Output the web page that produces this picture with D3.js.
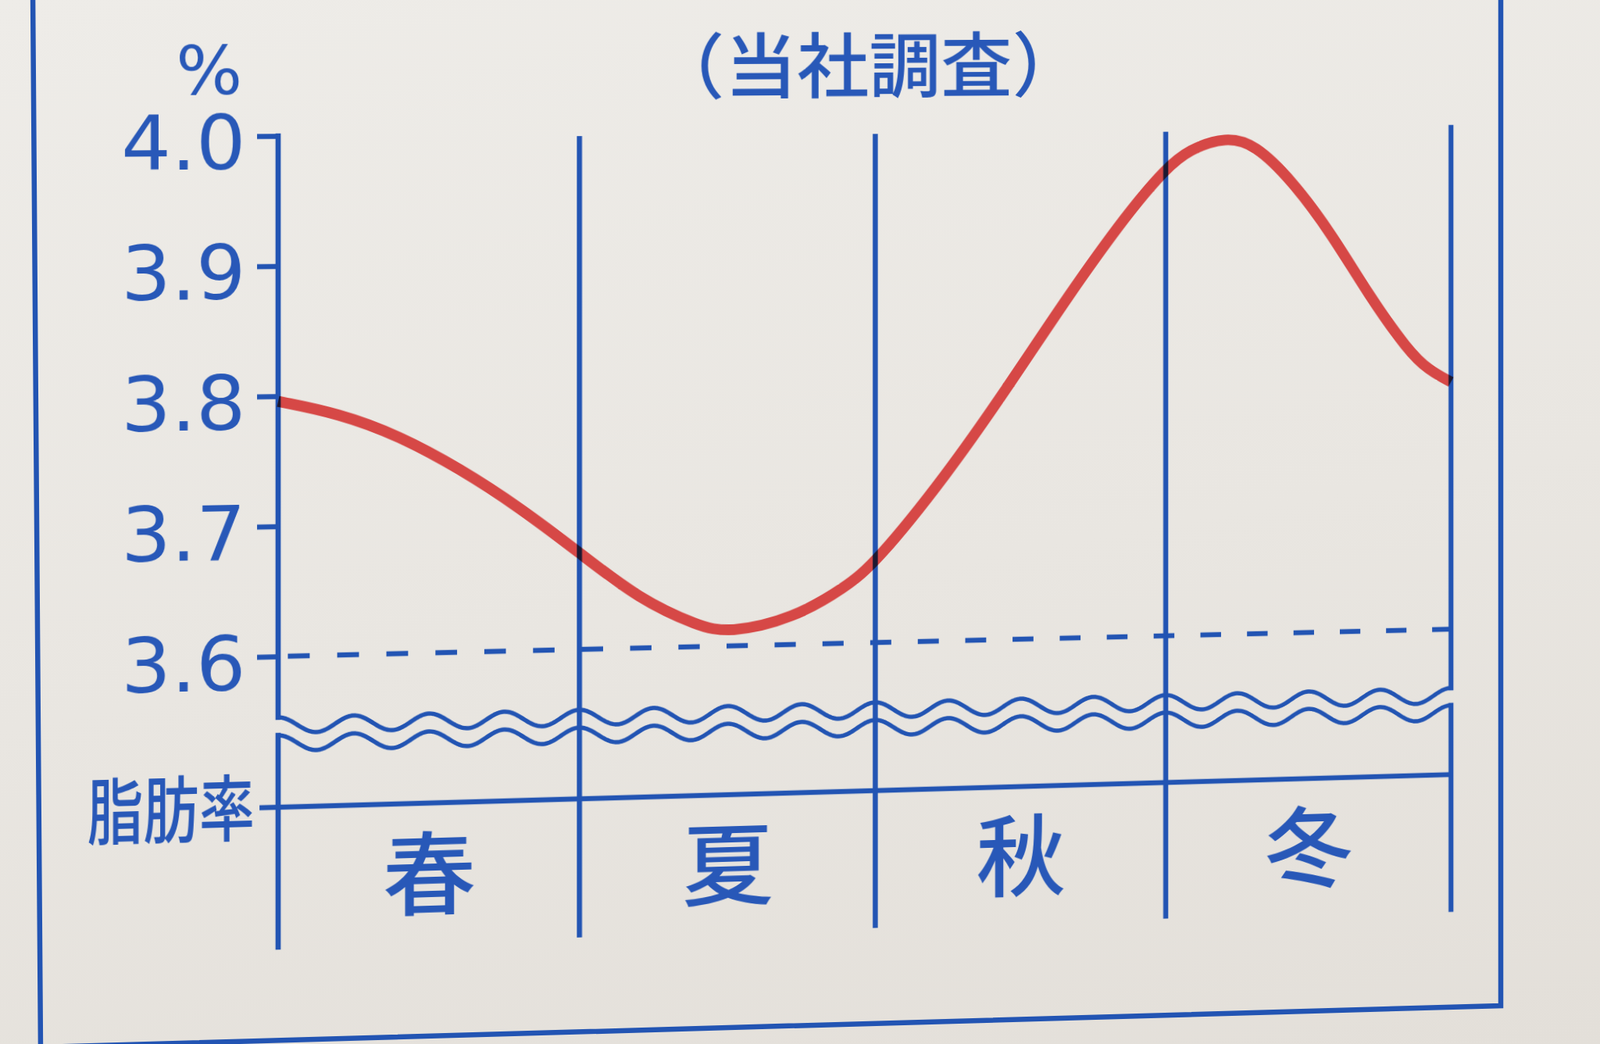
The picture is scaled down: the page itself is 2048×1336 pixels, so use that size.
<!DOCTYPE html>
<html><head><meta charset="utf-8">
<script src="https://cdn.jsdelivr.net/npm/d3@7"></script>
<style>
html,body{margin:0;padding:0;width:2048px;height:1336px;overflow:hidden;}
body{background:linear-gradient(170deg,#eeece8 0%,#e9e6e1 55%,#e3dfd9 100%);}
svg{position:absolute;left:0;top:0;overflow:visible;}
#chart{transform-origin:0 0;}
</style></head><body>
<svg id="frame" width="2048" height="1336"></svg>
<svg id="chart" width="2048" height="1336"></svg>
<script>
// ---- data ----
const seasons = ["春", "夏", "秋", "冬"];
// position along the year in season units (0 = start of spring, 4 = end of winter)
const curvePos = [0, 0.2, 0.4, 0.6, 0.8, 1.0, 1.2, 1.4, 1.5, 1.72, 1.9, 2.0, 2.24, 2.45, 2.66, 2.87, 3.0, 3.08, 3.21, 3.31, 3.44, 3.58, 3.71, 3.85, 3.92, 4.0];
// milk fat percentage
const curveVal = [3.796, 3.786, 3.768, 3.742, 3.711, 3.675, 3.638, 3.616, 3.610, 3.620, 3.644, 3.662, 3.729, 3.797, 3.869, 3.935, 3.969, 3.984, 3.994, 3.988, 3.959, 3.916, 3.867, 3.822, 3.807, 3.797];
const yTicks = [4.0, 3.9, 3.8, 3.7, 3.6];
const refValue = 3.6;
const titleText = "（当社調査）";
const unitText = "%";
const baseText = "脂肪率";

// ---- style / layout ----
const BLUE = "#2254b3", TEXT = "#2858b8", RED = "#d64846";
const plot = {left: 356, right: 1857, top: 174, ref: 840, brk: 918, brkGap: 23, brkAmp: 10, brkWaves: 16, base: 1033, bottom: 1212};
const CJK = "'Noto Sans CJK JP','Noto Sans CJK SC',sans-serif";
const NUM = "'DejaVu Sans',sans-serif";

const x = d3.scaleLinear().domain([0, seasons.length]).range([plot.left, plot.right]);
const y = d3.scaleLinear().domain([3.6, 4.0]).range([plot.ref, plot.top]);

const svg = d3.select("#chart");
const g = svg.append("g");

// season dividers
g.selectAll("line.div").data(d3.range(1, seasons.length)).join("line")
  .attr("class", "div")
  .attr("x1", d => x(d)).attr("x2", d => x(d))
  .attr("y1", y(4.0) + 3).attr("y2", plot.bottom)
  .attr("stroke", BLUE).attr("stroke-width", 6.5);

// outer vertical lines, broken at the wavy break
const segs = [
  [plot.left, y(4.0), plot.brk], [plot.left, plot.brk + plot.brkGap, plot.bottom],
  [plot.right, y(4.0), plot.brk], [plot.right, plot.brk + plot.brkGap, plot.bottom]
];
g.selectAll("line.edge").data(segs).join("line")
  .attr("class", "edge")
  .attr("x1", d => d[0]).attr("x2", d => d[0]).attr("y1", d => d[1]).attr("y2", d => d[2])
  .attr("stroke", BLUE).attr("stroke-width", 6.5).attr("stroke-linecap", "square");

// wavy break lines
function wave(top) {
  const n = plot.brkWaves, w = plot.right - plot.left;
  return d3.range(0, w + 0.5, 2).map(t => [plot.left + t, top + plot.brkAmp * (1 - Math.cos(2 * Math.PI * n * t / w))]);
}
g.selectAll("path.wave").data([wave(plot.brk), wave(plot.brk + plot.brkGap)]).join("path")
  .attr("class", "wave")
  .attr("d", d3.line())
  .attr("fill", "none").attr("stroke", BLUE).attr("stroke-width", 5.5).attr("stroke-linejoin", "round");

// baseline (脂肪率)
g.append("line")
  .attr("x1", plot.left - 23).attr("x2", plot.right)
  .attr("y1", plot.base).attr("y2", plot.base)
  .attr("stroke", BLUE).attr("stroke-width", 6.5);

// dashed reference line
g.append("line")
  .attr("x1", plot.left + 12).attr("x2", plot.right)
  .attr("y1", y(refValue)).attr("y2", y(refValue))
  .attr("stroke", BLUE).attr("stroke-width", 6.5).attr("stroke-dasharray", "27 34");

// y axis
const yAxis = d3.axisLeft(y).tickValues(yTicks).tickSize(26).tickPadding(14).tickFormat(d3.format(".1f"));
const ya = g.append("g").attr("transform", `translate(${plot.left},0)`).call(yAxis)
  .attr("font-family", NUM).attr("font-size", 96);
ya.select(".domain").remove();
ya.selectAll(".tick line").attr("stroke", BLUE).attr("stroke-width", 6.5);
ya.selectAll(".tick text").attr("fill", TEXT).attr("dy", "0.43em");

// red curve
const pts = curvePos.map((p, i) => [p, curveVal[i]]);
g.append("path")
  .datum(pts)
  .attr("d", d3.line().x(d => x(d[0])).y(d => y(d[1])).curve(d3.curveBasis))
  .attr("fill", "none").attr("stroke", RED).attr("stroke-width", 14)
  .style("mix-blend-mode", "multiply");

// season labels
g.selectAll("text.season").data(seasons).join("text")
  .attr("class", "season")
  .attr("x", (d, i) => x(i + 0.5)).attr("y", 1167)
  .attr("text-anchor", "middle")
  .attr("font-family", CJK).attr("font-weight", 500).attr("font-size", 116).attr("fill", TEXT)
  .text(d => d);

// title
g.append("text")
  .attr("x", (x(0) + x(seasons.length)) / 2 - 8).attr("y", 122)
  .attr("text-anchor", "middle")
  .attr("font-family", CJK).attr("font-weight", 500).attr("font-size", 92).attr("fill", TEXT)
  .text(titleText);

// unit
g.append("text")
  .attr("x", 312).attr("y", 120)
  .attr("text-anchor", "end")
  .attr("font-family", NUM).attr("font-size", 86).attr("fill", TEXT)
  .text(unitText);

// baseline label
g.append("text")
  .attr("x", 327).attr("y", 1067)
  .attr("text-anchor", "end")
  .attr("font-family", CJK).attr("font-weight", 500).attr("font-size", 92).attr("fill", TEXT)
  .attr("textLength", 205).attr("lengthAdjust", "spacingAndGlyphs")
  .text(baseText);

// photo perspective (view transform): right side slightly farther from the camera
(function () {
  const x0 = plot.left, x1 = plot.right, y0 = plot.top, y1 = 163, k = 0.964;
  const wR = 1 / k;
  const m14 = (wR - 1) / (x1 - x0), m44 = 1 - x0 * m14;
  const m12 = (y1 / k - y0) / (x1 - x0), m42 = -m12 * x0;
  const m11 = (x1 * wR - x0) / (x1 - x0), m41 = x0 - m11 * x0;
  svg.style("transform", `matrix3d(${m11},${m12},0,${m14},0,1,0,0,0,0,1,0,${m41},${m42},0,${m44})`);
})();

// printed box frame
const frame = d3.select("#frame");
frame.append("path")
  .attr("d", "M42,-10L52,1346M1921,-10L1921,1287L0,1341.5")
  .attr("fill", "none").attr("stroke", BLUE).attr("stroke-width", 6.5);
</script>
</body></html>
